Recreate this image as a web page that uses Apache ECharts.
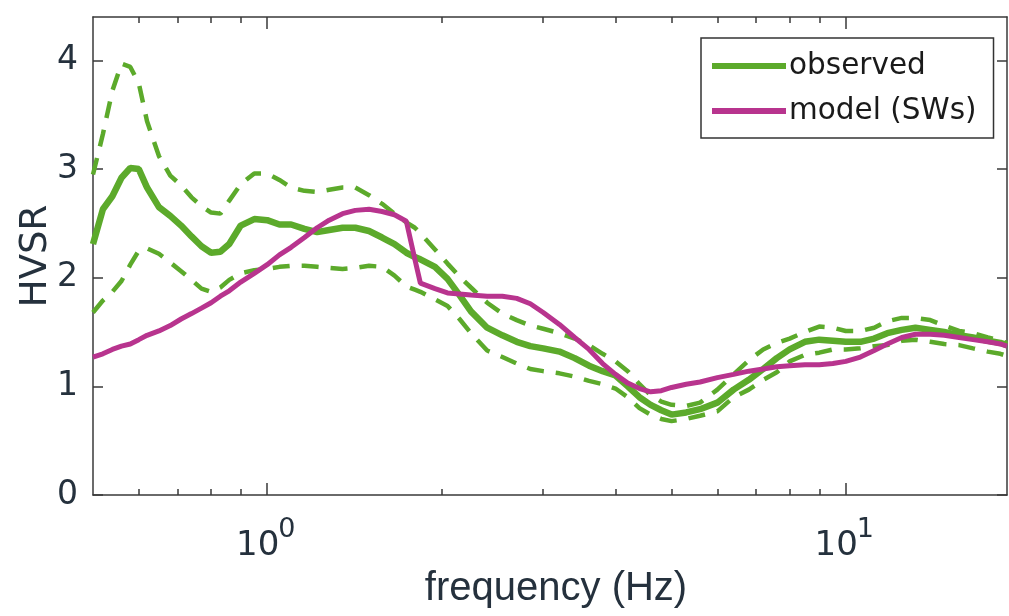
<!DOCTYPE html>
<html>
<head>
<meta charset="utf-8">
<script src="https://cdn.jsdelivr.net/npm/echarts@6/dist/echarts.min.js"></script>
<style>
html,body{margin:0;padding:0;background:#fff;}
#chart{width:1009px;height:616px;}
</style>
</head>
<body>
<div id="chart"></div>
<script>
// frequency samples (Hz)
const freq = [0.50,0.52,0.54,0.56,0.58,0.60,0.62,0.65,0.68,0.71,0.74,0.77,0.80,0.83,0.86,0.90,0.95,1.00,1.05,1.10,1.16,1.22,1.28,1.35,1.42,1.50,1.58,1.66,1.74,1.80,1.84,1.95,2.05,2.15,2.25,2.40,2.55,2.70,2.85,3.00,3.20,3.40,3.60,3.80,4.00,4.20,4.40,4.60,4.80,5.00,5.30,5.60,6.00,6.40,6.80,7.20,7.60,8.00,8.50,9.00,9.50,10.0,10.6,11.2,11.8,12.5,13.2,14.0,14.8,15.7,16.6,17.6,18.5,19.0];
// observed HVSR (mean)
const observed = [2.31,2.63,2.75,2.92,3.01,3.00,2.83,2.65,2.57,2.48,2.38,2.29,2.23,2.24,2.31,2.48,2.54,2.53,2.49,2.49,2.45,2.42,2.44,2.46,2.46,2.43,2.37,2.31,2.23,2.19,2.17,2.10,1.99,1.84,1.69,1.54,1.47,1.41,1.37,1.35,1.32,1.26,1.19,1.14,1.10,1.00,0.90,0.83,0.78,0.74,0.76,0.79,0.85,0.97,1.06,1.16,1.26,1.34,1.41,1.43,1.42,1.41,1.41,1.44,1.49,1.52,1.54,1.52,1.50,1.47,1.45,1.42,1.40,1.38];
// observed upper bound (dashed)
const observedUpper = [2.95,3.32,3.72,3.97,3.94,3.79,3.44,3.12,2.94,2.85,2.74,2.66,2.60,2.59,2.71,2.86,2.96,2.96,2.90,2.83,2.80,2.79,2.81,2.83,2.83,2.76,2.68,2.59,2.51,2.46,2.41,2.26,2.13,2.01,1.91,1.77,1.67,1.61,1.56,1.53,1.49,1.44,1.38,1.30,1.23,1.14,1.02,0.92,0.86,0.83,0.82,0.85,0.97,1.11,1.24,1.34,1.40,1.44,1.50,1.55,1.54,1.51,1.51,1.54,1.60,1.63,1.63,1.61,1.56,1.51,1.49,1.45,1.42,1.40];
// observed lower bound (dashed)
const observedLower = [1.68,1.79,1.87,1.97,2.12,2.25,2.27,2.22,2.14,2.06,1.98,1.90,1.87,1.91,1.98,2.04,2.07,2.08,2.10,2.11,2.11,2.10,2.09,2.08,2.09,2.11,2.10,2.02,1.92,1.89,1.87,1.80,1.74,1.62,1.49,1.33,1.27,1.21,1.16,1.14,1.12,1.09,1.05,1.02,0.98,0.90,0.80,0.74,0.70,0.68,0.70,0.73,0.77,0.90,0.97,1.06,1.13,1.23,1.29,1.31,1.34,1.34,1.35,1.37,1.38,1.42,1.43,1.41,1.39,1.38,1.35,1.32,1.30,1.28];
// model (SWs)
const model = [1.27,1.30,1.34,1.37,1.39,1.43,1.47,1.51,1.56,1.62,1.67,1.72,1.77,1.83,1.88,1.96,2.04,2.12,2.21,2.28,2.37,2.46,2.53,2.59,2.62,2.63,2.61,2.58,2.52,2.17,1.95,1.90,1.86,1.85,1.84,1.83,1.83,1.81,1.76,1.68,1.57,1.45,1.34,1.21,1.11,1.03,0.98,0.95,0.96,0.99,1.02,1.04,1.08,1.11,1.14,1.16,1.18,1.19,1.20,1.20,1.21,1.23,1.27,1.33,1.39,1.45,1.48,1.48,1.47,1.45,1.43,1.41,1.39,1.37];

const seriesNames = ['observed', 'model (SWs)'];
const xMajorTicks = [1, 10];
const xMinorTicks = [0.6,0.7,0.8,0.9,2,3,4,5,6,7,8,9];
const yTicks = [0,1,2,3,4];
const xRange = [0.5, 19];
const yRange = [0, 4.4];

const green = '#5caa2b';
const magenta = '#b8348e';
const ink = '#25313d';
const axisColor = '#3a3a3a';
const FONT = '"DejaVu Sans", sans-serif';
const TITLE_FONT = '"Liberation Sans", Arial, sans-serif';

const pairs = arr => freq.map((f, i) => [f, arr[i]]);

// base "10" labels
const baseLabel = {
  show: true, customValues: xMajorTicks, margin: 34,
  fontFamily: FONT, fontSize: 34, color: ink,
  formatter: () => '{b|10}',
  rich: { b: { fontFamily: FONT, fontSize: 34, color: ink, padding: [0, 19, 0, 0] } }
};
// exponent labels (superscript)
const expLabel = {
  show: true, customValues: xMajorTicks, margin: 21, align: 'left',
  fontFamily: FONT, fontSize: 27, color: ink,
  formatter: v => '{s|' + Math.round(Math.log10(v)) + '}',
  rich: { s: { fontFamily: FONT, fontSize: 27, color: ink, padding: [0, 0, 0, 11] } }
};

function xAxisDef(pos, ticks, len, label, withLine, withName) {
  return {
    type: 'log', logBase: 10, min: xRange[0], max: xRange[1], position: pos,
    gridIndex: 0,
    axisLine: { show: withLine, lineStyle: { color: axisColor, width: 1.5 } },
    axisTick: { show: true, inside: true, length: len, customValues: ticks, lineStyle: { color: axisColor, width: 1.5 } },
    axisLabel: label || { show: false },
    splitLine: { show: false },
    minorTick: { show: false },
    name: withName ? 'frequency (Hz)' : '',
    nameLocation: 'middle', nameGap: 74, nameMoveOverlap: false,
    nameTextStyle: { fontFamily: TITLE_FONT, fontSize: 40, color: ink, padding: [0, 0, 0, 12] }
  };
}

const option = {
  animation: false,
  backgroundColor: '#ffffff',
  grid: { left: 93, right: 2, top: 17, bottom: 121, containLabel: false, outerBoundsMode: 'none' },
  legend: {
    data: seriesNames,
    orient: 'vertical',
    left: 701, top: 38,
    padding: [13, 17, 12, 8],
    itemGap: 15,
    itemWidth: 74, itemHeight: 30,
    itemStyle: { opacity: 0 },
    lineStyle: { width: 6 },
    textStyle: { fontFamily: FONT, fontSize: 29.5, color: '#1a1a1a', padding: [0, 0, 0, -2] },
    borderColor: '#333', borderWidth: 1.5, borderRadius: 0,
    backgroundColor: '#fff'
  },
  xAxis: [
    xAxisDef('bottom', xMajorTicks, 12, baseLabel, true, true),
    xAxisDef('bottom', xMinorTicks, 6, expLabel, false, false),
    xAxisDef('top', xMajorTicks, 12, null, true, false),
    xAxisDef('top', xMinorTicks, 6, null, false, false)
  ],
  yAxis: [
    {
      type: 'value', min: yRange[0], max: yRange[1], interval: 1, position: 'left',
      axisLine: { show: true, lineStyle: { color: axisColor, width: 1.5 } },
      axisTick: { show: true, inside: true, length: 10, customValues: yTicks, lineStyle: { color: axisColor, width: 1.5 } },
      axisLabel: { customValues: yTicks, margin: 15, fontFamily: FONT, fontSize: 33, color: ink },
      splitLine: { show: false },
      name: 'HVSR', nameLocation: 'middle', nameGap: 38, nameRotate: 90, nameMoveOverlap: false,
      nameTextStyle: { fontFamily: FONT, fontSize: 37, color: ink }
    },
    {
      type: 'value', min: yRange[0], max: yRange[1], interval: 1, position: 'right',
      axisLine: { show: true, lineStyle: { color: axisColor, width: 1.5 } },
      axisTick: { show: true, inside: true, length: 10, customValues: yTicks, lineStyle: { color: axisColor, width: 1.5 } },
      axisLabel: { show: false },
      splitLine: { show: false }
    }
  ],
  series: [
    {
      name: 'upper', type: 'line', data: pairs(observedUpper), showSymbol: false, symbol: 'none',
      lineStyle: { color: green, width: 4.5, type: [17, 12] }, z: 2
    },
    {
      name: 'lower', type: 'line', data: pairs(observedLower), showSymbol: false, symbol: 'none',
      lineStyle: { color: green, width: 4.5, type: [17, 12] }, z: 2
    },
    {
      name: seriesNames[0], type: 'line', data: pairs(observed), showSymbol: false, symbol: 'none',
      itemStyle: { color: green },
      lineStyle: { color: green, width: 6.5 }, z: 3
    },
    {
      name: seriesNames[1], type: 'line', data: pairs(model), showSymbol: false, symbol: 'none',
      itemStyle: { color: magenta },
      lineStyle: { color: magenta, width: 5 }, z: 4
    }
  ]
};

const chart = echarts.init(document.getElementById('chart'), null, { renderer: 'canvas' });
chart.setOption(option);
</script>
</body>
</html>
